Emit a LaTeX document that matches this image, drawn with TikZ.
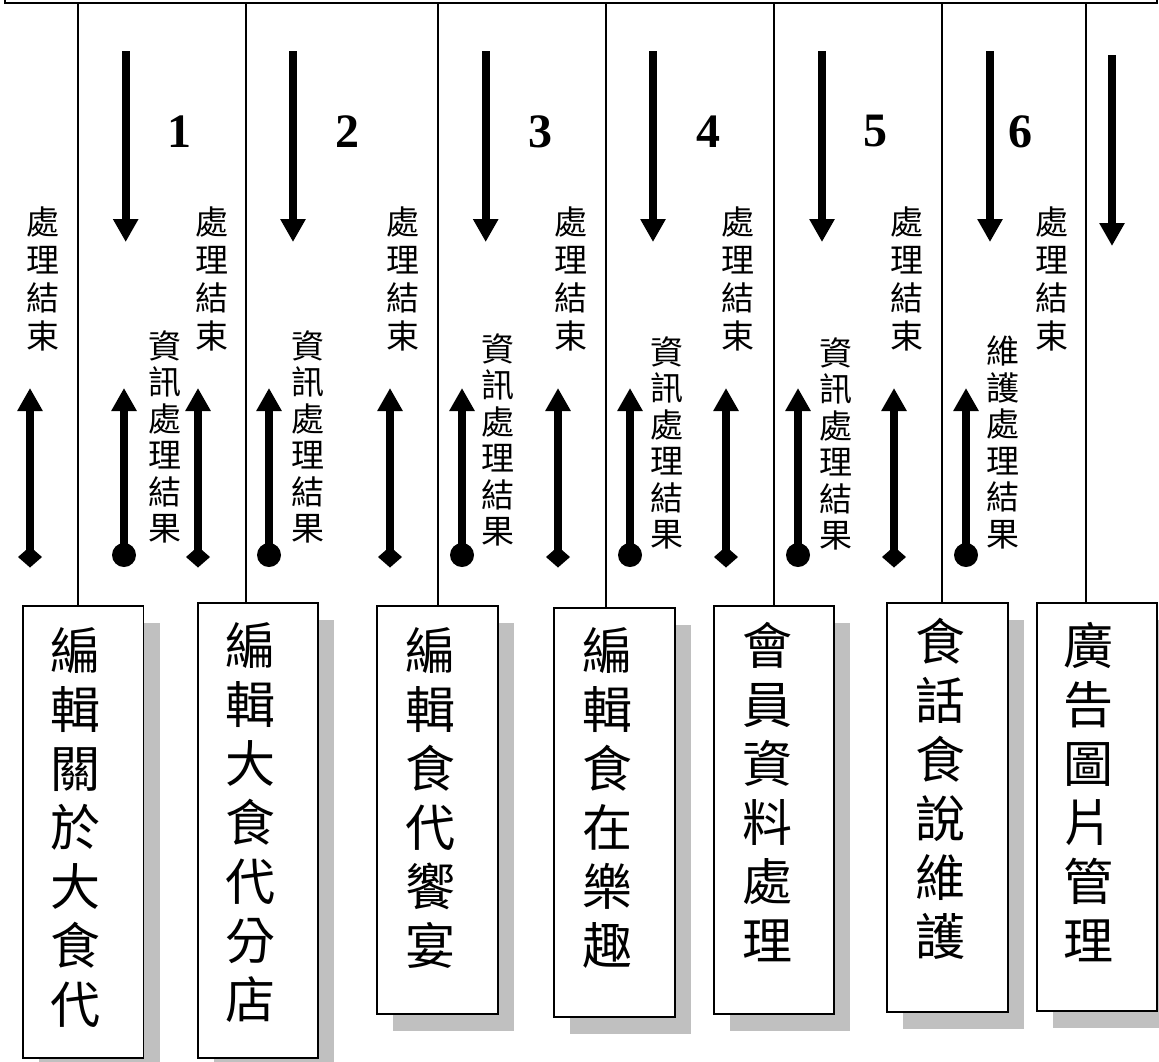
\documentclass[tikz,border=0pt]{standalone}
\usepackage{fontspec}
\setmainfont{Liberation Serif}
\newfontfamily\cjk{Noto Sans CJK TC}
\usetikzlibrary{arrows.meta,shadows,calc,shapes.geometric}
\definecolor{shadowgray}{RGB}{192,192,192}
\begin{document}
\begin{tikzpicture}[x=1pt,y=-1pt,
  conn/.style={line width=1.5pt},
  boxnode/.style={draw, line width=1.8pt, fill=white, inner sep=0pt, outer sep=0pt, anchor=north west,
    drop shadow={shadow xshift=16pt, shadow yshift=-17pt, fill=shadowgray, opacity=1}},
  boxtext/.style={anchor=north, inner sep=0pt, align=center, font=\cjk\fontsize{50}{59}\selectfont},
  smalltext/.style={anchor=north, inner sep=0pt, align=center, font=\cjk\fontsize{33}{38}\selectfont},
  smalltextb/.style={anchor=north, inner sep=0pt, align=center, font=\cjk\fontsize{33}{36.5}\selectfont},
  numtext/.style={inner sep=0pt, font=\bfseries\fontsize{48}{50}\selectfont},
  downarrow/.style={line width=8pt, -{Triangle[width=24pt,length=23pt]}},
  uparrow/.style={line width=8pt, -{Triangle[width=24pt,length=23pt]}},
  diamtail/.style={diamond, fill=black, inner sep=0pt, outer sep=0pt, minimum width=24pt, minimum height=21pt},
  dottail/.style={circle, fill=black, inner sep=0pt, outer sep=0pt, minimum size=24pt}
]
\useasboundingbox (0,0) rectangle (1159,1061);

% top box (cut off)
\node[draw, line width=2pt, inner sep=0pt, outer sep=0pt, minimum width=1152pt, minimum height=40pt, anchor=south west] (top) at (5,2.5) {};

% boxes
\node[boxnode, minimum width=120.5pt, minimum height=452pt] (b1) at (23,606) {};
\node[boxnode, minimum width=120pt, minimum height=455pt] (b2) at (198,603) {};
\node[boxnode, minimum width=121pt, minimum height=408pt] (b3) at (377,606) {};
\node[boxnode, minimum width=121pt, minimum height=409pt] (b4) at (554,608) {};
\node[boxnode, minimum width=120pt, minimum height=408pt] (b5) at (714,606) {};
\node[boxnode, minimum width=121pt, minimum height=409pt] (b6) at (887,603) {};
\node[boxnode, minimum width=120pt, minimum height=408pt] (b7) at (1037,603) {};

% box texts
\node[boxtext] (t1) at (75,627) {編\\輯\\關\\於\\大\\食\\代};
\node[boxtext] (t2) at (250,622) {編\\輯\\大\\食\\代\\分\\店};
\node[boxtext] (t3) at (430,627) {編\\輯\\食\\代\\饗\\宴};
\node[boxtext] (t4) at (607,627) {編\\輯\\食\\在\\樂\\趣};
\node[boxtext] (t5) at (767,622) {會\\員\\資\\料\\處\\理};
\node[boxtext] (t6) at (940,618) {食\\話\\食\\說\\維\\護};
\node[boxtext] (t7) at (1088,622) {廣\\告\\圖\\片\\管\\理};

% connectors
\foreach \i/\x in {1/78,2/246,3/438,4/606,5/774,6/942,7/1086}{
  \coordinate (c\i) at (\x,0);
  \draw[conn] (top.south -| c\i) -- (c\i |- b\i.north);
}

% numbers
\foreach \i/\x in {1/179,2/347,3/540,4/708,5/875,6/1020}{
  \node[numtext] (n\i) at (\x,131.5) {\i};
}

% "處理結束" labels
\foreach \i/\x in {1/43,2/212,3/403,4/571,5/738,6/907,7/1052}{
  \node[smalltext] (e\i) at (\x,207) {處\\理\\結\\束};
}

% result labels
\foreach \i/\x/\y in {1/165/330,2/308/330,3/498/333,4/667/336,5/836/337}{
  \node[smalltextb] (r\i) at (\x,\y) {資\\訊\\處\\理\\結\\果};
}
\node[smalltextb] (r6) at (1003,336) {維\\護\\處\\理\\結\\果};

% down arrows
\foreach \i/\x in {1/125.7,2/293,3/485.7,4/653,5/822,6/990}{
  \coordinate (ds\i) at (\x,51);
  \coordinate (de\i) at (\x,242);
  \draw[downarrow] (ds\i) -- (de\i);
}
\coordinate (ds7) at (1112,55);
\coordinate (de7) at (1112,246);
\draw[downarrow] (ds7) -- (de7);

% up arrows with diamond tails
\foreach \i/\x in {1/30,2/198,3/390,4/558,5/726,6/894}{
  \node[diamtail] (dm\i) at (\x,557) {};
  \coordinate (ue\i) at (\x,388);
  \draw[uparrow] (dm\i.center) -- (ue\i);
}

% up arrows with dot tails
\foreach \i/\x in {1/124,2/269,3/462,4/630,5/798,6/966}{
  \node[dottail] (dt\i) at (\x,555) {};
  \coordinate (ve\i) at (\x,388);
  \draw[uparrow] (dt\i.center) -- (ve\i);
}
\end{tikzpicture}
\end{document}
